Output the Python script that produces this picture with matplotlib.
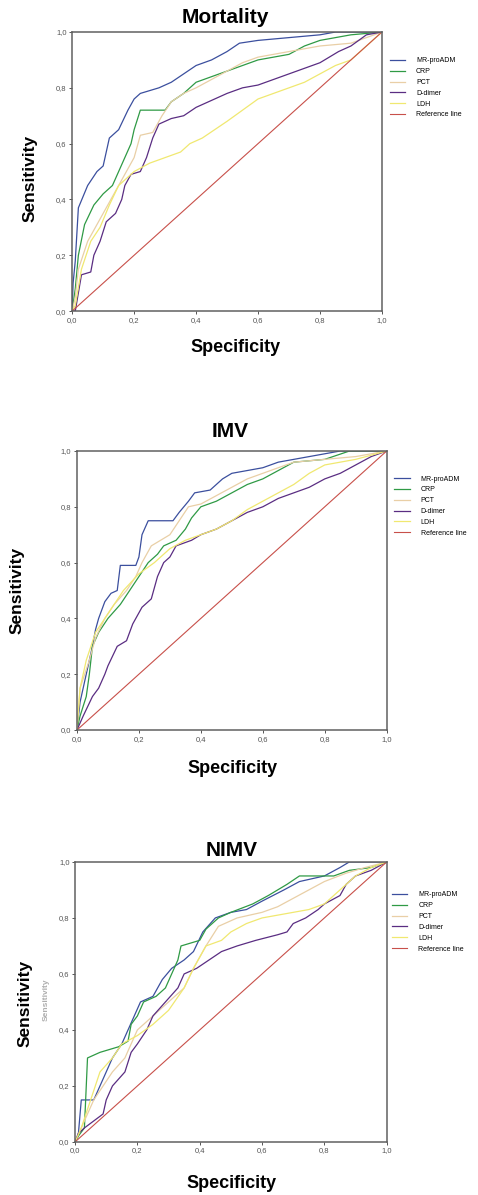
import matplotlib
matplotlib.use("Agg")
import matplotlib.pyplot as plt

plt.rcParams['font.family'] = ['Liberation Sans', 'DejaVu Sans']

labels = ["MR-proADM", "CRP", "PCT", "D-dimer", "LDH", "Reference line"]
colors = ["#3b4f9e", "#2f9a45", "#e9cfa6", "#5a2d82", "#f0e870", "#c8504a"]
tick_vals = [0.0, 0.2, 0.4, 0.6, 0.8, 1.0]
tick_labels = ["0,0", "0,2", "0,4", "0,6", "0,8", "1,0"]

# Mortality
mort_mr_x = [0, 0.003, 0.01, 0.02, 0.05, 0.08, 0.1, 0.12, 0.15, 0.18, 0.2, 0.22, 0.28, 0.32, 0.36, 0.4, 0.45, 0.5, 0.54, 0.6, 0.7, 0.8, 0.85, 1.0]
mort_mr_y = [0, 0.10, 0.18, 0.37, 0.45, 0.50, 0.52, 0.62, 0.65, 0.72, 0.76, 0.78, 0.80, 0.82, 0.85, 0.88, 0.90, 0.93, 0.96, 0.97, 0.98, 0.99, 1.0, 1.0]
mort_crp_x = [0, 0.01, 0.02, 0.04, 0.07, 0.1, 0.13, 0.15, 0.17, 0.19, 0.2, 0.22, 0.3, 0.32, 0.36, 0.4, 0.45, 0.5, 0.55, 0.6, 0.7, 0.75, 0.8, 0.9, 1.0]
mort_crp_y = [0, 0.08, 0.20, 0.31, 0.38, 0.42, 0.45, 0.50, 0.55, 0.60, 0.65, 0.72, 0.72, 0.75, 0.78, 0.82, 0.84, 0.86, 0.88, 0.90, 0.92, 0.95, 0.97, 0.99, 1.0]
mort_pct_x = [0, 0.01, 0.02, 0.05, 0.1, 0.15, 0.2, 0.22, 0.26, 0.29, 0.32, 0.36, 0.4, 0.45, 0.5, 0.55, 0.6, 0.7, 0.8, 0.9, 1.0]
mort_pct_y = [0, 0.05, 0.15, 0.25, 0.35, 0.45, 0.55, 0.63, 0.64, 0.70, 0.75, 0.78, 0.80, 0.83, 0.86, 0.89, 0.91, 0.93, 0.95, 0.96, 1.0]
mort_dd_x = [0, 0.01, 0.03, 0.06, 0.07, 0.09, 0.11, 0.14, 0.16, 0.17, 0.19, 0.22, 0.24, 0.26, 0.28, 0.32, 0.36, 0.4, 0.44, 0.5, 0.55, 0.6, 0.65, 0.7, 0.75, 0.8, 0.86, 0.9, 0.95, 1.0]
mort_dd_y = [0, 0.0, 0.13, 0.14, 0.20, 0.25, 0.32, 0.35, 0.40, 0.45, 0.49, 0.50, 0.55, 0.62, 0.67, 0.69, 0.70, 0.73, 0.75, 0.78, 0.80, 0.81, 0.83, 0.85, 0.87, 0.89, 0.93, 0.95, 0.99, 1.0]
mort_ldh_x = [0, 0.01, 0.03, 0.06, 0.09, 0.12, 0.15, 0.2, 0.25, 0.3, 0.35, 0.38, 0.42, 0.46, 0.5, 0.55, 0.6, 0.65, 0.7, 0.75, 0.8, 0.85, 0.9, 0.95, 1.0]
mort_ldh_y = [0, 0.02, 0.15, 0.25, 0.30, 0.38, 0.45, 0.50, 0.53, 0.55, 0.57, 0.60, 0.62, 0.65, 0.68, 0.72, 0.76, 0.78, 0.80, 0.82, 0.85, 0.88, 0.90, 0.95, 1.0]

# IMV
imv_mr_x = [0, 0.01, 0.03, 0.05, 0.06, 0.07, 0.09, 0.11, 0.13, 0.14, 0.19, 0.2, 0.21, 0.23, 0.31, 0.33, 0.36, 0.38, 0.43, 0.47, 0.5, 0.55, 0.6, 0.65, 0.7, 0.75, 0.8, 0.85, 1.0]
imv_mr_y = [0, 0.10, 0.20, 0.30, 0.36, 0.40, 0.46, 0.49, 0.50, 0.59, 0.59, 0.62, 0.70, 0.75, 0.75, 0.78, 0.82, 0.85, 0.86, 0.90, 0.92, 0.93, 0.94, 0.96, 0.97, 0.98, 0.99, 1.0, 1.0]
imv_crp_x = [0, 0.01, 0.03, 0.04, 0.05, 0.07, 0.1, 0.14, 0.17, 0.2, 0.23, 0.26, 0.28, 0.32, 0.35, 0.37, 0.4, 0.45, 0.5, 0.55, 0.6, 0.65, 0.7, 0.8, 0.88, 1.0]
imv_crp_y = [0, 0.05, 0.12, 0.20, 0.30, 0.35, 0.40, 0.45, 0.50, 0.55, 0.60, 0.63, 0.66, 0.68, 0.72, 0.76, 0.80, 0.82, 0.85, 0.88, 0.90, 0.93, 0.96, 0.97, 1.0, 1.0]
imv_pct_x = [0, 0.01, 0.04, 0.06, 0.09, 0.12, 0.16, 0.19, 0.21, 0.24, 0.3, 0.33, 0.36, 0.4, 0.45, 0.5, 0.55, 0.6, 0.65, 0.7, 0.8, 0.9, 1.0]
imv_pct_y = [0, 0.15, 0.25, 0.33, 0.40, 0.45, 0.50, 0.55, 0.60, 0.66, 0.70, 0.75, 0.80, 0.81, 0.84, 0.87, 0.90, 0.92, 0.94, 0.96, 0.97, 0.98, 1.0]
imv_dd_x = [0, 0.02, 0.05, 0.07, 0.09, 0.1, 0.13, 0.16, 0.18, 0.21, 0.24, 0.26, 0.28, 0.3, 0.32, 0.37, 0.4, 0.45, 0.5, 0.55, 0.6, 0.65, 0.7, 0.75, 0.8, 0.85, 0.9, 0.95, 1.0]
imv_dd_y = [0, 0.05, 0.12, 0.15, 0.20, 0.23, 0.30, 0.32, 0.38, 0.44, 0.47, 0.55, 0.60, 0.62, 0.66, 0.68, 0.70, 0.72, 0.75, 0.78, 0.80, 0.83, 0.85, 0.87, 0.90, 0.92, 0.95, 0.98, 1.0]
imv_ldh_x = [0, 0.01, 0.03, 0.06, 0.12, 0.15, 0.2, 0.25, 0.3, 0.35, 0.4, 0.45, 0.5, 0.55, 0.6, 0.65, 0.7, 0.75, 0.8, 0.9, 1.0]
imv_ldh_y = [0, 0.15, 0.25, 0.35, 0.45, 0.50, 0.56, 0.60, 0.65, 0.68, 0.70, 0.72, 0.75, 0.79, 0.82, 0.85, 0.88, 0.92, 0.95, 0.97, 1.0]

# NIMV
nimv_mr_x = [0, 0.01, 0.02, 0.06, 0.08, 0.1, 0.12, 0.15, 0.17, 0.19, 0.21, 0.25, 0.28, 0.31, 0.35, 0.38, 0.41, 0.45, 0.5, 0.55, 0.6, 0.67, 0.72, 0.8, 0.85, 0.88, 1.0]
nimv_mr_y = [0, 0.02, 0.15, 0.15, 0.20, 0.25, 0.30, 0.35, 0.40, 0.45, 0.50, 0.52, 0.58, 0.62, 0.65, 0.68, 0.75, 0.80, 0.82, 0.83, 0.86, 0.90, 0.93, 0.95, 0.98, 1.0, 1.0]
nimv_crp_x = [0, 0.01, 0.03, 0.04, 0.08, 0.14, 0.17, 0.18, 0.2, 0.22, 0.26, 0.29, 0.31, 0.33, 0.34, 0.4, 0.42, 0.46, 0.5, 0.57, 0.62, 0.68, 0.72, 0.83, 0.88, 0.95, 1.0]
nimv_crp_y = [0, 0.02, 0.05, 0.30, 0.32, 0.34, 0.36, 0.42, 0.45, 0.50, 0.52, 0.55, 0.60, 0.65, 0.70, 0.72, 0.76, 0.80, 0.82, 0.85, 0.88, 0.92, 0.95, 0.95, 0.97, 0.98, 1.0]
nimv_pct_x = [0, 0.02, 0.06, 0.12, 0.16, 0.2, 0.25, 0.3, 0.35, 0.38, 0.42, 0.46, 0.52, 0.6, 0.65, 0.7, 0.75, 0.8, 0.87, 0.93, 1.0]
nimv_pct_y = [0, 0.05, 0.15, 0.25, 0.30, 0.40, 0.45, 0.50, 0.55, 0.62, 0.70, 0.77, 0.80, 0.82, 0.84, 0.87, 0.90, 0.93, 0.96, 0.98, 1.0]
nimv_dd_x = [0, 0.01, 0.03, 0.09, 0.1, 0.12, 0.16, 0.18, 0.2, 0.23, 0.25, 0.29, 0.33, 0.35, 0.39, 0.43, 0.47, 0.52, 0.58, 0.65, 0.68, 0.7, 0.74, 0.78, 0.8, 0.85, 0.87, 0.9, 0.95, 1.0]
nimv_dd_y = [0, 0.03, 0.05, 0.10, 0.15, 0.20, 0.25, 0.32, 0.35, 0.40, 0.45, 0.50, 0.55, 0.60, 0.62, 0.65, 0.68, 0.70, 0.72, 0.74, 0.75, 0.78, 0.80, 0.83, 0.85, 0.88, 0.92, 0.95, 0.97, 1.0]
nimv_ldh_x = [0, 0.02, 0.05, 0.08, 0.12, 0.15, 0.2, 0.25, 0.3, 0.35, 0.38, 0.42, 0.47, 0.5, 0.55, 0.6, 0.7, 0.75, 0.8, 0.85, 0.9, 0.95, 1.0]
nimv_ldh_y = [0, 0.05, 0.15, 0.25, 0.30, 0.35, 0.38, 0.42, 0.47, 0.55, 0.62, 0.70, 0.72, 0.75, 0.78, 0.80, 0.82, 0.83, 0.85, 0.90, 0.95, 0.98, 1.0]

ref_x = [0, 1]
ref_y = [0, 1]

panels = [
    ("Mortality", [mort_mr_x, mort_crp_x, mort_pct_x, mort_dd_x, mort_ldh_x],
     [mort_mr_y, mort_crp_y, mort_pct_y, mort_dd_y, mort_ldh_y]),
    ("IMV", [imv_mr_x, imv_crp_x, imv_pct_x, imv_dd_x, imv_ldh_x],
     [imv_mr_y, imv_crp_y, imv_pct_y, imv_dd_y, imv_ldh_y]),
    ("NIMV", [nimv_mr_x, nimv_crp_x, nimv_pct_x, nimv_dd_x, nimv_ldh_x],
     [nimv_mr_y, nimv_crp_y, nimv_pct_y, nimv_dd_y, nimv_ldh_y]),
]

# axes rectangles, title / label positions (figure fractions)
rects = [[0.151, 0.7397, 0.648, 0.2335],
         [0.161, 0.3891, 0.648, 0.2335],
         [0.157, 0.0444, 0.652, 0.2343]]
title_pos = [(0.471, 0.985), (0.481, 0.6385), (0.485, 0.2887)]
xlab_pos = [(0.492, 0.7096), (0.487, 0.357), (0.485, 0.01)]
ylab_pos = [(0.063, 0.851), (0.036, 0.506), (0.052, 0.1607)]
leg_pos = [(0.815, 0.952), (0.825, 0.602), (0.82, 0.254)]

fig = plt.figure(figsize=(4.78, 11.95), dpi=100)

for i, (name, xs, ys) in enumerate(panels):
    ax = fig.add_axes(rects[i])
    for k in range(5):
        ax.plot(xs[k], ys[k], color=colors[k], lw=0.9, label=labels[k])
    ax.plot(ref_x, ref_y, color=colors[5], lw=0.8, label=labels[5])
    ax.set_xlim(0, 1)
    ax.set_ylim(0, 1)
    ax.set_xticks(tick_vals)
    ax.set_xticklabels(tick_labels)
    ax.set_yticks(tick_vals)
    ax.set_yticklabels(tick_labels)
    ax.tick_params(labelsize=5.5, labelcolor="#555555", length=2.5, width=0.7,
                   color="#555555", pad=1.5)
    for s in ax.spines.values():
        s.set_color("#606060")
        s.set_linewidth(1.1)
    fig.text(*title_pos[i], name, ha="center", va="center", fontsize=15,
             fontweight="bold")
    fig.text(*xlab_pos[i], "Specificity", ha="center", va="center",
             fontsize=13, fontweight="bold")
    fig.text(*ylab_pos[i], "Sensitivity", ha="center", va="center",
             fontsize=12.5, fontweight="bold", rotation=90)
    ax.legend(loc="upper left", bbox_to_anchor=leg_pos[i],
              bbox_transform=fig.transFigure, frameon=False, fontsize=5,
              handlelength=2.2, handletextpad=1.6, labelspacing=0.55,
              borderpad=0, borderaxespad=0)

# faint ghost of the axis label left in the NIMV panel of the source image
fig.text(0.097, 0.163, "Sensitivity", ha="center", va="center", fontsize=6,
         fontweight="bold", rotation=90, color="#777777", alpha=0.6)

fig.savefig("out.png", dpi=100)
